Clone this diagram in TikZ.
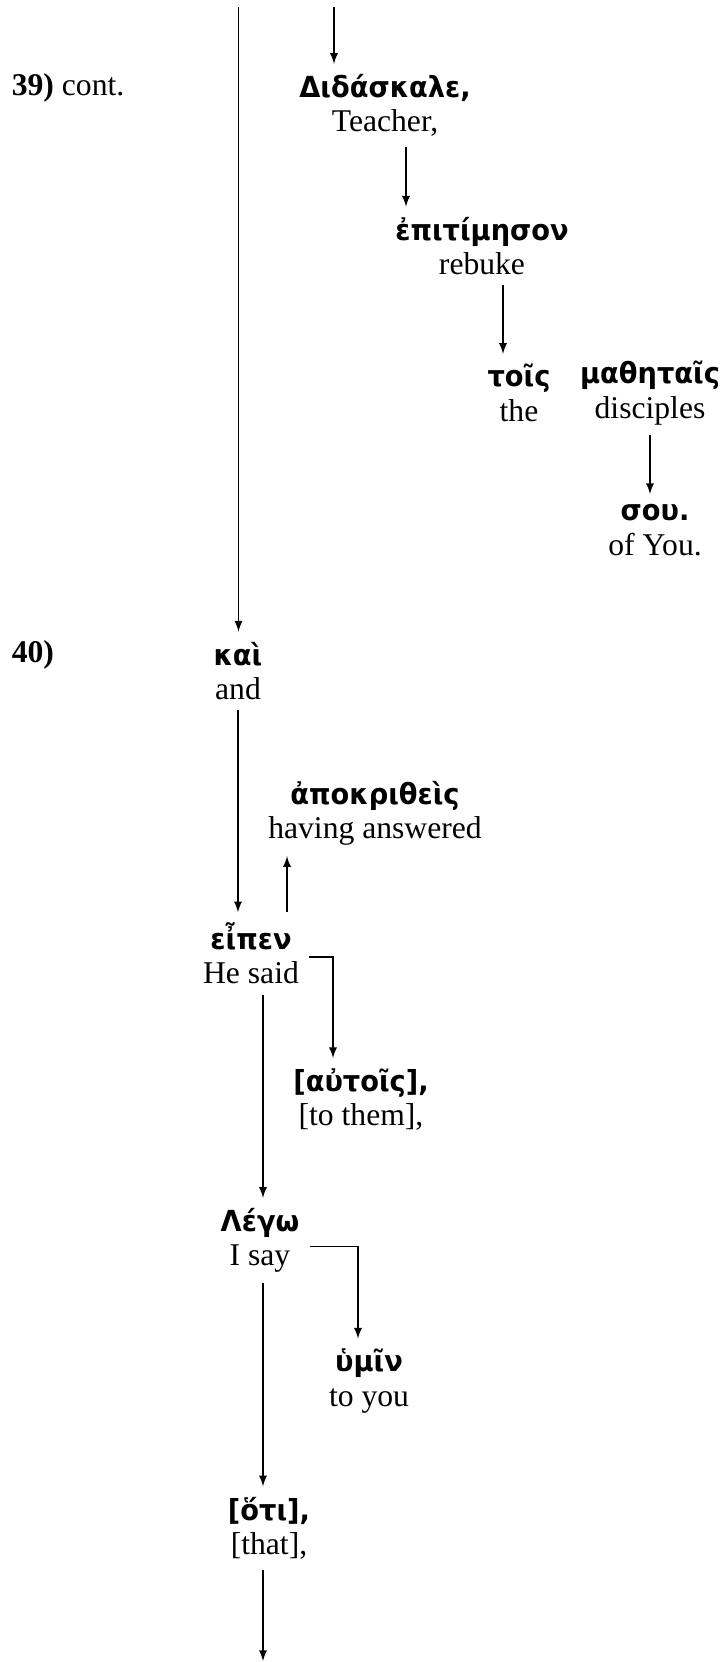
\documentclass[tikz,border=0pt]{standalone}
\usepackage{fontspec}
\setmainfont{Liberation Serif}
\newfontfamily\greekfont[FakeStretch=0.94]{DejaVu Sans}
\usetikzlibrary{calc}
\usetikzlibrary{arrows}
\usetikzlibrary{positioning}

\newcommand{\gk}[1]{{\greekfont\bfseries\fontsize{16.5}{19.5}\selectfont #1}}
\tikzset{
  word/.style={align=center, inner sep=2pt, outer sep=4pt, font=\fontsize{18}{19.5}\selectfont},
  verse/.style={anchor=west, inner sep=0pt, font=\fontsize{18}{19.5}\selectfont},
  link/.style={-latex, draw=black, line width=1.1pt}
}

\begin{document}
\begin{tikzpicture}
\useasboundingbox (0, 0) rectangle (14.46, -33.24);
\node [verse] (v39) at (0.23, -1.76) {\textbf{39)} cont.};
\node [verse] (v40) at (0.23, -13.10) {\textbf{40)}};
\node [word] (didaskale) at (7.70, -2.11) {\gk{Διδάσκαλε,}\\Teacher,};
\node [word] (epitimeson) at (9.64, -4.92) {\gk{ἐπιτίμησον}\\rebuke};
\node [word] (tois) at (10.38, -7.86) {\gk{τοῖς}\\the};
\node [word] (mathetais) at (13.00, -7.86) {\gk{μαθηταῖς}\\disciples};
\node [word] (sou) at (13.10, -10.60) {\gk{σου.}\\of You.};
\node [word] (kai) at (4.76, -13.42) {\gk{καὶ}\\and};
\node [word] (apokritheis) at (7.50, -16.27) {\gk{ἀποκριθεὶς}\\having answered};
\node [word] (eipen) at (5.02, -19.07) {\gk{εἶπεν}\\He said};
\node [word] (autois) at (7.22, -21.99) {\gk{[αὐτοῖς],}\\{[to them],}};
\node [word] (lego) at (5.20, -24.81) {\gk{Λέγω}\\I say};
\node [word] (humin) at (7.38, -27.62) {\gk{ὑμῖν}\\to you};
\node [word] (hoti) at (5.38, -30.56) {\gk{[ὅτι],}\\{[that],}};
\coordinate (topA) at (4.77, -0.14);
\coordinate (topB) at (6.68, -0.14);
\coordinate (botA) at (5.26, -33.22);
\draw [link] (topA) -- (topA |- kai.north);
\draw [link] (topB) -- (topB |- didaskale.north);
\draw [link] ([xshift=0.42cm]didaskale.south) -- ([xshift=0.42cm]didaskale.south |- epitimeson.north);
\draw [link] ([xshift=0.42cm]epitimeson.south) -- ([xshift=0.42cm]epitimeson.south |- tois.north);
\draw [link] (mathetais.south) -- (mathetais.south |- sou.north);
\draw [link] (kai.south) -- (kai.south |- eipen.north);
\draw [link] ([xshift=0.72cm]eipen.north) -- ([xshift=0.72cm]eipen.north |- apokritheis.south);
\draw [link] ([yshift=-0.07cm]eipen.east) -| ([xshift=-0.56cm]autois.north);
\draw [link] ([xshift=0.24cm]eipen.south) -- ([xshift=0.24cm]eipen.south |- lego.north);
\draw [link] ([yshift=-0.12cm]lego.east) -| ([xshift=-0.22cm]humin.north);
\draw [link] ([xshift=0.06cm]lego.south) -- ([xshift=0.06cm]lego.south |- hoti.north);
\draw [link] (botA |- hoti.south) -- (botA);
\end{tikzpicture}
\end{document}
